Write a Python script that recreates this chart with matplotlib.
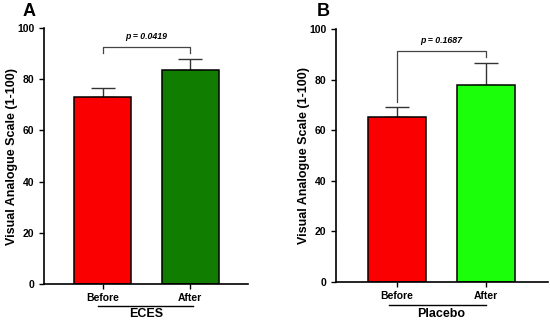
import matplotlib.pyplot as plt

plt.rcParams['font.family'] = ['Liberation Sans', 'DejaVu Sans']
plt.rcParams['font.weight'] = 'bold'

# data
labels = ['Before', 'After']
eces_means = [73.0, 83.6]
eces_sem = [3.6, 4.3]
placebo_means = [65.1, 77.8]
placebo_sem = [4.0, 8.7]
eces_colors = ['#fb0000', '#107c00']
placebo_colors = ['#fb0000', '#1cff0a']
p_values = ['p = 0.0419', 'p = 0.1687']
groups = ['ECES', 'Placebo']
panel_letters = ['A', 'B']

fig = plt.figure(figsize=(5.5, 3.23), dpi=100)
axA = fig.add_axes([0.080, 0.1207, 0.371, 0.7925])
axB = fig.add_axes([0.611, 0.128, 0.385, 0.781])


def draw_panel(ax, means, sem, colors, pval, group,
               bracket, xlim, group_line, group_y, text_y):
    x = [0, 1]
    ax.bar(x, means, width=0.655, color=colors, edgecolor='black',
           linewidth=1.1, zorder=2)
    ax.errorbar(x, means, yerr=[[0, 0], sem], fmt='none', ecolor='#333333',
                elinewidth=1.0, capsize=8.5, capthick=1.0, zorder=1)
    ax.set_xlim(*xlim)
    ax.set_ylim(0, 100)
    ax.set_yticks([0, 20, 40, 60, 80, 100])
    ax.set_xticks(x)
    ax.set_xticklabels(labels, fontsize=7.5, fontweight='bold')
    ax.tick_params(axis='y', labelsize=7.5, width=1.0, length=3.5)
    ax.tick_params(axis='x', width=1.0, length=3.5, pad=3)
    for lab in ax.get_yticklabels():
        lab.set_fontweight('bold')
    for s in ['top', 'right']:
        ax.spines[s].set_visible(False)
    for s in ['left', 'bottom']:
        ax.spines[s].set_linewidth(1.2)
    ax.set_ylabel('Visual Analogue Scale (1-100)', fontsize=9, fontweight='bold', labelpad=-1)

    # significance bracket
    yl, ytop, yr = bracket
    ax.plot([0, 0, 1, 1], [yl, ytop, ytop, yr], color='#444444', lw=0.9)
    ax.text(0.5, ytop + 2.3, pval, ha='center', va='bottom', fontsize=6.3,
            fontweight='bold', style='italic')

    # group line & label under the axis
    trans = ax.get_xaxis_transform()
    ax.plot(group_line, [group_y, group_y], color='black', lw=1.0,
            transform=trans, clip_on=False)
    ax.text(0.5, text_y, group, ha='center', va='center', fontsize=9,
            fontweight='bold', transform=trans)


draw_panel(axA, eces_means, eces_sem, eces_colors, p_values[0], groups[0],
           (90.2, 92.6, 90.2), (-0.67, 1.66), [-0.05, 1.03], -0.085, -0.117)
draw_panel(axB, placebo_means, placebo_sem, placebo_colors, p_values[1], groups[1],
           (71.3, 91.4, 88.9), (-0.68, 1.69), [-0.086, 1.0], -0.091, -0.128)

fig.text(23 / 550, 1 - 12 / 323, panel_letters[0], fontsize=13, fontweight='bold',
         ha='left', va='center')
fig.text(317 / 550, 1 - 12 / 323, panel_letters[1], fontsize=13, fontweight='bold',
         ha='left', va='center')

fig.savefig('out.png', dpi=100)
